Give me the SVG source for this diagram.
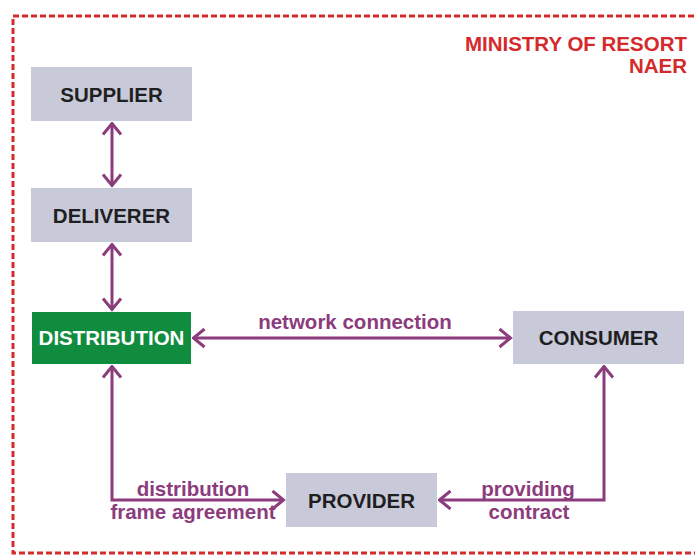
<svg xmlns="http://www.w3.org/2000/svg" width="695" height="556" viewBox="0 0 695 556">
  <style>
    .box { fill: #c8cad9; }
    .green { fill: #0f8c3e; }
    .lbl { font-family: "Liberation Sans", Arial, sans-serif; font-weight: bold; font-size: 20.5px; text-anchor: middle; }
    .dark { fill: #1f1f22; }
    .white { fill: #ffffff; }
    .purple { fill: #8c3b7c; }
    .red { fill: #d42a2c; font-family: "Liberation Sans", Arial, sans-serif; font-weight: bold; font-size: 20.5px; text-anchor: end; }
    .conn { fill: none; stroke: #8c3b7c; stroke-width: 3; }
  </style>
  <defs>
    <marker id="chev" viewBox="-14 -12 16 24" refX="0.5" refY="0" markerWidth="16" markerHeight="24" markerUnits="userSpaceOnUse" orient="auto-start-reverse">
      <path d="M-11,-9 L0,0 L-11,9" fill="none" stroke="#8c3b7c" stroke-width="3"/>
    </marker>
  </defs>
  <rect width="695" height="556" fill="#ffffff"/>
  <path d="M703,16 H13 V553 H703" fill="none" stroke="#d42a2c" stroke-width="3" stroke-dasharray="6,3"/>
  <g id="ministry">
    <text class="red" x="687" y="51">MINISTRY OF RESORT</text>
    <text class="red" x="687" y="73">NAER</text>
  </g>
  <g id="supplier">
    <rect class="box" x="31" y="67" width="161" height="54"/>
    <text class="lbl dark" x="111.5" y="101.5">SUPPLIER</text>
  </g>
  <g id="deliverer">
    <rect class="box" x="31" y="188" width="161" height="54"/>
    <text class="lbl dark" x="111.5" y="222.5">DELIVERER</text>
  </g>
  <g id="distribution">
    <rect class="green" x="32" y="312" width="159" height="52"/>
    <text class="lbl white" x="111.5" y="345">DISTRIBUTION</text>
  </g>
  <g id="consumer">
    <rect class="box" x="513" y="311" width="171" height="53"/>
    <text class="lbl dark" x="598.5" y="345">CONSUMER</text>
  </g>
  <g id="provider">
    <rect class="box" x="286" y="473" width="151" height="54"/>
    <text class="lbl dark" x="361.5" y="507.5">PROVIDER</text>
  </g>
  <g id="connectors">
    <line class="conn" x1="112" y1="123" x2="112" y2="186" marker-start="url(#chev)" marker-end="url(#chev)"/>
    <line class="conn" x1="112" y1="244" x2="112" y2="310" marker-start="url(#chev)" marker-end="url(#chev)"/>
    <line class="conn" x1="193" y1="338" x2="511" y2="338" marker-start="url(#chev)" marker-end="url(#chev)"/>
    <path class="conn" d="M112,366 V500 H284" marker-start="url(#chev)" marker-end="url(#chev)"/>
    <path class="conn" d="M604,366 V500 H439" marker-start="url(#chev)" marker-end="url(#chev)"/>
    <text class="lbl purple" x="355" y="329">network connection</text>
    <text class="lbl purple" x="193" y="496">distribution</text>
    <text class="lbl purple" x="193" y="519">frame agreement</text>
    <text class="lbl purple" x="528" y="496">providing</text>
    <text class="lbl purple" x="529" y="519">contract</text>
  </g>
</svg>
